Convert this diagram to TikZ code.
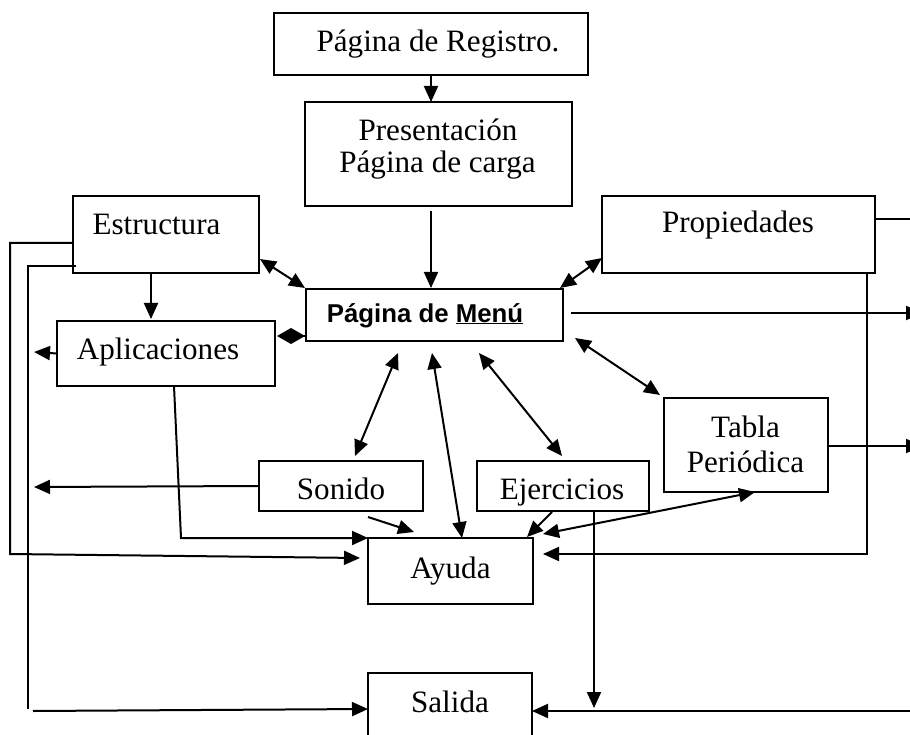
\documentclass[tikz,border=0pt]{standalone}
\usepackage{fontspec}
\setmainfont{Liberation Serif}
\newfontfamily\arialfont{Liberation Sans}
\usetikzlibrary{arrows.meta,calc}
\begin{document}
\begin{tikzpicture}[x=1pt,y=-1pt,line width=2pt,
  >={Triangle[length=16pt,width=14pt]},
  box/.style={draw,inner sep=0pt,outer sep=0pt},
  txt/.style={font=\fontsize{31.1}{34}\selectfont,inner sep=0pt,anchor=base},
  mtxt/.style={font=\arialfont\bfseries\fontsize{25.8}{28}\selectfont,inner sep=0pt,anchor=base},
  dia/.style={-{Diamond[length=28pt,width=16pt]}}]
\useasboundingbox (0,0) rectangle (910,735);
\clip (0,0) rectangle (910,735);

% boxes
\node[box,minimum width=314pt,minimum height=62pt] (reg) at (431,44) {};
\node[box,minimum width=267pt,minimum height=104pt] (pres) at (438.5,154) {};
\node[box,minimum width=257pt,minimum height=52pt] (menu) at (434.5,315) {};
\node[box,minimum width=186pt,minimum height=77pt] (estr) at (166,234.5) {};
\node[box,minimum width=218pt,minimum height=65pt] (apl) at (166,353.5) {};
\node[box,minimum width=273pt,minimum height=77pt] (prop) at (738.5,234.5) {};
\node[box,minimum width=164pt,minimum height=94pt] (tabla) at (746,445) {};
\node[box,minimum width=164pt,minimum height=50pt] (son) at (341,486) {};
\node[box,minimum width=172pt,minimum height=50pt] (ejer) at (563,486) {};
\node[box,minimum width=165pt,minimum height=66pt] (ayuda) at (450.5,571) {};
\node[box,minimum width=164pt,minimum height=87pt] (salida) at (450,716.5) {};

% texts
\node[txt] (treg) at (438,52) {Página de Registro.};
\node[txt] (tpres1) at (438,141) {Presentación};
\node[txt] (tpres2) at (437.5,173) {Página de carga};
\node[mtxt] (tmenu) at (425,322) {Página de \underline{Menú}};
\node[txt] (testr) at (156.5,235) {Estructura};
\node[txt] (tapl) at (158,359) {Aplicaciones};
\node[txt] (tprop) at (738,233) {Propiedades};
\node[txt] (ttab1) at (745.5,437) {Tabla};
\node[txt] (ttab2) at (745.5,472) {Periódica};
\node[txt] (tson) at (341,499) {Sonido};
\node[txt] (tejer) at (562,499) {Ejercicios};
\node[txt] (tayu) at (450.5,578) {Ayuda};
\node[txt] (tsal) at (450,712) {Salida};

% free ends
\coordinate (eAplL) at (34,352);
\coordinate (eSonL) at (34,487);
\coordinate (eMenuR) at (922,313);
\coordinate (eTabR) at (922,446);
\coordinate (ePropR) at (912,219);
\coordinate (eSalL) at (33,711);
\coordinate (eSalR) at (912,711);

% connectors
\draw[->] (reg.south) -- (reg.south |- pres.north);
\draw[->] ($(pres.south)+(-7.5,5)$) -- ($(menu.north)+(-3.5,-1)$);
\draw[->] ($(estr.south)+(-15,0)$) -- ($(apl.north)+(-15,-2)$);
\draw[<->] ($(estr.south east)+(1,-14)$) -- ($(menu.north west)+(-1,-1)$);
\draw[<->] ($(prop.south west)+(0,-15)$) -- ($(menu.north east)+(-3,-1)$);
\draw[dia] ($(menu.south west)+(0,-5)$) -- ($(apl.north east)+(2,15)$);
\draw[->] (apl.west) -- (eAplL);
\draw[->] (son.west) -- (eSonL);
\draw[->] ($(menu.east)+(8,-2)$) -- (eMenuR);
\draw[->] ($(tabla.east)+(0,1)$) -- (eTabR);
\draw ($(prop.north east)+(0,23)$) -- (ePropR);
\draw[<->] ($(menu.south west)+(92,12)$) -- ($(son.north west)+(96,-5)$);
\draw[<->] ($(menu.south west)+(126,12)$) -- ($(ayuda.north west)+(94,0)$);
\draw[<->] ($(menu.south west)+(173,12)$) -- ($(ejer.north west)+(85,-5)$);
\draw[<->] ($(menu.south east)+(12,-3)$) -- ($(tabla.north west)+(-4,-3)$);
\draw[<->] ($(tabla.south)+(9,0)$) -- ($(ayuda.north east)+(10,-4)$);
\draw[->] ($(ejer.south west)+(75,1)$) -- ($(ayuda.north east)+(-6,-1)$);
\draw[->] ($(son.south west)+(109,6)$) -- ($(ayuda.north west)+(46,-6)$);
\draw[->] ($(apl.south west)+(117,0)$) -- ($(ayuda.north west)+(-187,0)$) -- (ayuda.north west);
\draw[->] ($(prop.south east)+(-8,0)$) -- ($(prop.south east)+(-8,281)$) -- ($(ayuda.north east)+(10,16)$);
\draw[->] ($(estr.north west)+(0,47)$) -- (10,243) -- (10,554) -- ($(ayuda.north west)+(-8,20)$);
\draw ($(estr.south west)+(3,-7)$) -- (28,266) -- (28,709);
\draw[->] (eSalL) -- ($(salida.north west)+(0,36)$);
\draw[->] ($(ejer.south west)+(117,0)$) -- ($(ejer.south west)+(117,197)$);
\draw[->] (eSalR) -- ($(salida.north east)+(0,38)$);
\end{tikzpicture}
\end{document}
